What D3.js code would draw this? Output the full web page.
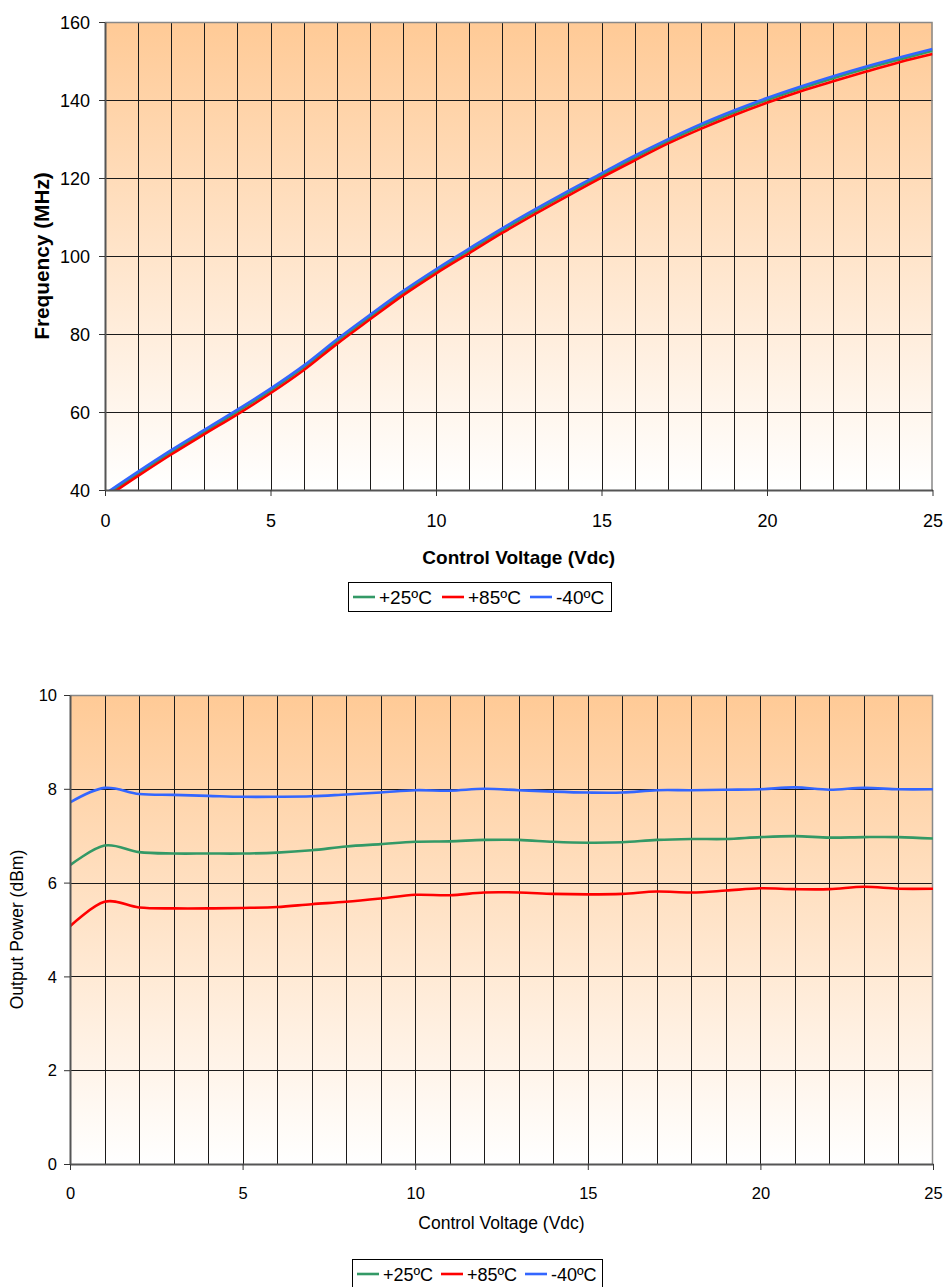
<!DOCTYPE html>
<html>
<head>
<meta charset="utf-8">
<script src="https://cdn.jsdelivr.net/npm/d3@7"></script>
<style>
  body { margin: 0; background: #fff; }
  text { font-family: "Liberation Sans", Arial, sans-serif; fill: #000; }
</style>
</head>
<body>
<div id="chart"></div>
<script>
// control voltage, one reading per volt
var voltage = [0, 1, 2, 3, 4, 5, 6, 7, 8, 9, 10, 11, 12, 13, 14, 15, 16, 17, 18, 19, 20, 21, 22, 23, 24, 25];

// frequency (MHz) vs control voltage
var freq25 = [38.5, 44.2, 49.7, 54.9, 60.1, 65.5, 71.4, 78.1, 84.4, 90.5, 96.1, 101.4, 106.6, 111.5, 116.2, 120.7, 125.2, 129.4, 133.3, 136.8, 140.0, 142.9, 145.6, 148.1, 150.4, 152.6];
var freq85 = [37.9, 43.6, 49.1, 54.3, 59.4, 64.8, 70.7, 77.4, 83.7, 89.9, 95.5, 100.7, 105.9, 110.8, 115.5, 120.1, 124.5, 128.8, 132.6, 136.1, 139.3, 142.2, 144.8, 147.3, 149.7, 151.8];
var freqM40 = [39.0, 44.7, 50.2, 55.4, 60.6, 66.0, 71.9, 78.6, 84.9, 91.0, 96.6, 101.9, 107.1, 112.0, 116.7, 121.2, 125.7, 129.9, 133.8, 137.3, 140.5, 143.4, 146.1, 148.6, 150.9, 153.1];

// output power (dBm) vs control voltage
var pow25 = [6.37, 6.79, 6.65, 6.62, 6.62, 6.62, 6.64, 6.69, 6.77, 6.82, 6.87, 6.88, 6.91, 6.91, 6.87, 6.85, 6.86, 6.91, 6.93, 6.93, 6.97, 6.99, 6.96, 6.97, 6.97, 6.94];
var pow85 = [5.07, 5.59, 5.47, 5.45, 5.45, 5.46, 5.48, 5.54, 5.59, 5.66, 5.74, 5.73, 5.79, 5.79, 5.76, 5.75, 5.76, 5.81, 5.79, 5.83, 5.88, 5.86, 5.86, 5.91, 5.87, 5.87];
var powM40 = [7.71, 8.02, 7.89, 7.87, 7.85, 7.83, 7.83, 7.84, 7.88, 7.92, 7.97, 7.96, 8.00, 7.97, 7.94, 7.92, 7.92, 7.97, 7.97, 7.98, 7.99, 8.03, 7.98, 8.02, 7.99, 7.99];

var seriesNames = ["+25ºC", "+85ºC", "-40ºC"];
var seriesColors = ["#339966", "#ff0000", "#3366ff"];

var xTicks = [0, 5, 10, 15, 20, 25];
var freqTicks = [40, 60, 80, 100, 120, 140, 160];
var powTicks = [0, 2, 4, 6, 8, 10];

var svg = d3.select("#chart")
  .append("svg")
    .attr("width", 945)
    .attr("height", 1287);

// peach to white background used by both plots
var grad = svg.append("defs").append("linearGradient")
  .attr("id", "bg")
  .attr("x1", 0).attr("y1", 0).attr("x2", 0).attr("y2", 1);
grad.append("stop").attr("offset", "0%").attr("stop-color", "#ffca96");
grad.append("stop").attr("offset", "100%").attr("stop-color", "#ffffff");

function panel(p) {
  var w = p.right - p.left, h = p.bottom - p.top;
  var g = svg.append("g").attr("transform", "translate(" + p.left + "," + p.top + ")");

  var x = d3.scaleLinear().domain([0, 25]).range([0, w]);
  var y = d3.scaleLinear().domain(p.yDomain).range([h, 0]);

  g.append("rect").attr("width", w).attr("height", h).attr("fill", "url(#bg)");

  // grid: a line per volt, a line per y tick
  g.append("g").selectAll("line").data(voltage.slice(1, -1)).enter().append("line")
    .attr("x1", function(d) { return Math.round(x(d)) + 0.5; })
    .attr("x2", function(d) { return Math.round(x(d)) + 0.5; })
    .attr("y1", 0).attr("y2", h)
    .attr("stroke", "#1a1a1a").attr("stroke-width", 1);
  g.append("g").selectAll("line").data(p.yTicks.slice(1, -1)).enter().append("line")
    .attr("x1", 0).attr("x2", w)
    .attr("y1", function(d) { return Math.round(y(d)) + 0.5; })
    .attr("y2", function(d) { return Math.round(y(d)) + 0.5; })
    .attr("stroke", "#1a1a1a").attr("stroke-width", 1);

  // top and right frame
  g.append("path")
    .attr("d", "M0,0.5H" + (w - 0.5) + "V" + h)
    .attr("fill", "none").attr("stroke", "#888").attr("stroke-width", 1.5);

  g.append("clipPath").attr("id", p.id + "clip")
    .append("rect").attr("width", w).attr("height", h);

  var line = d3.line()
    .curve(d3.curveCatmullRom.alpha(0))
    .x(function(d, i) { return x(voltage[i]); })
    .y(function(d) { return y(d); });

  g.append("g").attr("clip-path", "url(#" + p.id + "clip)")
    .selectAll("path").data(p.series).enter().append("path")
      .attr("d", line)
      .attr("fill", "none")
      .attr("stroke", function(d, i) { return seriesColors[i]; })
      .attr("stroke-width", 2.6);

  var xAxis = g.append("g").attr("transform", "translate(0," + h + ")")
    .call(d3.axisBottom(x).tickValues(xTicks).tickSize(6).tickSizeOuter(0));
  xAxis.selectAll("text")
    .attr("y", p.xLabelOff).attr("dy", "0.35em")
    .style("font-size", p.tickSize + "px").style("font-family", "Liberation Sans, Arial, sans-serif");

  var yAxis = g.append("g")
    .call(d3.axisLeft(y).tickValues(p.yTicks).tickSize(6).tickSizeOuter(0));
  yAxis.selectAll("text")
    .attr("x", -p.yLabelOff).attr("dy", "0.35em")
    .style("font-size", p.tickSize + "px").style("font-family", "Liberation Sans, Arial, sans-serif");

  [xAxis, yAxis].forEach(function(a) {
    a.select(".domain").attr("stroke", "#555").attr("stroke-width", 2);
    a.selectAll(".tick line").attr("stroke", "#333");
  });

  svg.append("text")
    .attr("x", (p.left + p.right) / 2).attr("y", p.xTitleY)
    .attr("text-anchor", "middle").attr("dy", "0.35em")
    .style("font-size", p.xTitleSize + "px")
    .style("font-weight", p.bold ? "bold" : "normal")
    .text("Control Voltage (Vdc)");

  svg.append("text")
    .attr("transform", "translate(" + p.yTitleX + "," + (p.top + p.bottom) / 2 + ") rotate(-90)")
    .attr("text-anchor", "middle").attr("dy", "0.35em")
    .style("font-size", p.yTitleSize + "px")
    .style("font-weight", p.bold ? "bold" : "normal")
    .text(p.yTitle);

  // legend
  var lg = svg.append("g").attr("transform", "translate(" + p.legend[0] + "," + p.legend[1] + ")");
  lg.append("rect")
    .attr("x", 0.5).attr("y", 0.5)
    .attr("width", p.legend[2]).attr("height", p.legend[3])
    .attr("fill", "#fff").attr("stroke", "#000");
  seriesNames.forEach(function(name, i) {
    var ox = p.legendX[i];
    lg.append("line")
      .attr("x1", ox).attr("x2", ox + 22)
      .attr("y1", p.legend[3] / 2 + 0.5).attr("y2", p.legend[3] / 2 + 0.5)
      .attr("stroke", seriesColors[i]).attr("stroke-width", 2.6);
    lg.append("text")
      .attr("x", ox + 26).attr("y", p.legend[3] / 2 + 1)
      .attr("dy", "0.35em")
      .style("font-size", p.legendSize + "px")
      .text(name);
  });
}

panel({
  id: "freq", left: 105, top: 22, right: 932.5, bottom: 490,
  yDomain: [40, 160], yTicks: freqTicks,
  series: [freq25, freq85, freqM40],
  tickSize: 18, xLabelOff: 31, yLabelOff: 15,
  xTitleY: 557, xTitleSize: 19, yTitleX: 42, yTitleSize: 20.8, bold: true,
  yTitle: "Frequency (MHz)",
  legend: [348, 582, 263, 29], legendX: [5, 94, 182], legendSize: 19
});

panel({
  id: "pow", left: 70, top: 695, right: 933, bottom: 1164,
  yDomain: [0, 10], yTicks: powTicks,
  series: [pow25, pow85, powM40],
  tickSize: 16.5, xLabelOff: 29, yLabelOff: 13,
  xTitleY: 1223, xTitleSize: 17.5, yTitleX: 17, yTitleSize: 17.5, bold: false,
  yTitle: "Output Power (dBm)",
  legend: [352, 1259, 250, 29], legendX: [5, 89, 173], legendSize: 18
});
</script>
</body>
</html>
